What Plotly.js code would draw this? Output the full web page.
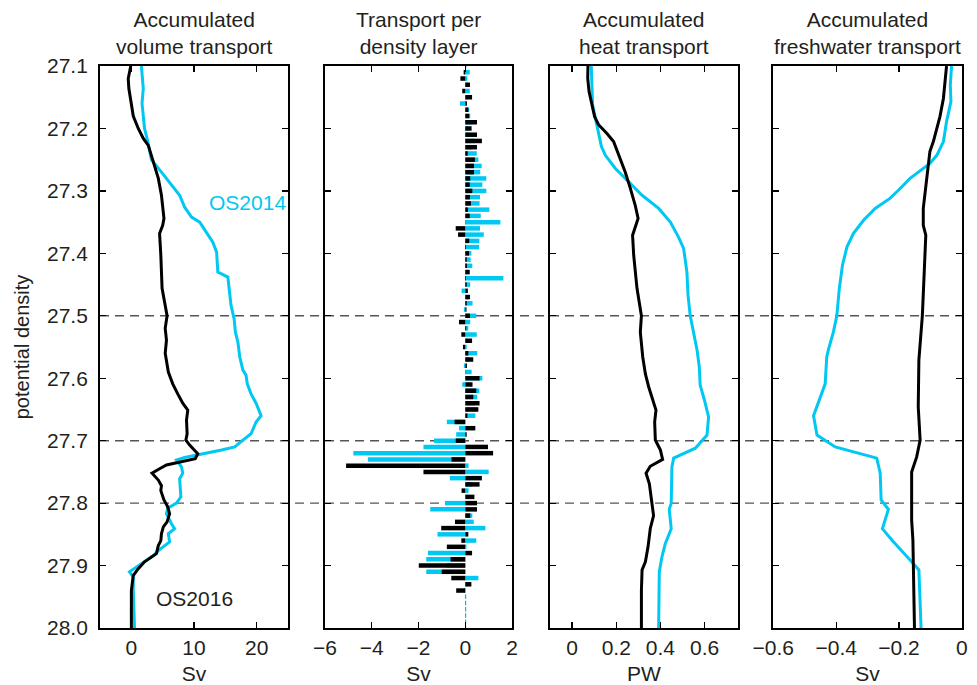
<!DOCTYPE html>
<html>
<head>
<meta charset="utf-8">
<script src="https://cdn.plot.ly/plotly-3.0.1.min.js"></script>
<style>html,body{margin:0;padding:0;background:#fff;}#chart{width:977px;height:685px;}</style>
</head>
<body>
<div id="chart"></div>
<script>
// ---------- Panel 1: accumulated volume transport (Sv) ----------
const vol2016Dens = [27.10,27.12,27.136,27.16,27.18,27.20,27.216,27.227,27.253,27.28,27.307,27.344,27.355,27.368,27.403,27.456,27.50,27.52,27.539,27.56,27.59,27.609,27.625,27.64,27.651,27.667,27.689,27.699,27.707,27.721,27.729,27.734,27.739,27.745,27.752,27.763,27.772,27.78,27.795,27.806,27.817,27.83,27.838,27.849,27.86,27.868,27.881,27.894,27.905,27.916,27.94,28.0];
const vol2016 = [-0.1,-0.5,-0.4,0,0.3,1.1,1.9,2.7,3.5,4.3,4.8,5.2,5.0,4.5,4.7,4.9,5.7,5.4,5.6,5.4,5.9,6.6,7.4,8.2,9.0,8.8,8.9,8.7,9.3,10.6,10.2,8.0,5.6,4.5,3.3,4.3,4.8,4.7,5.2,5.8,6.1,5.7,5.1,4.8,4.7,4.3,4.0,2.1,1.1,0.3,0,0];
const vol2014Dens = [27.10,27.136,27.16,27.20,27.22,27.25,27.27,27.29,27.307,27.326,27.342,27.35,27.366,27.382,27.398,27.43,27.438,27.457,27.483,27.505,27.526,27.542,27.566,27.587,27.595,27.609,27.625,27.64,27.66,27.67,27.689,27.699,27.71,27.715,27.722,27.727,27.731,27.742,27.752,27.761,27.79,27.80,27.808,27.817,27.833,27.841,27.849,27.862,27.876,27.884,27.897,27.91,27.918,27.94,28.0];
const vol2014 = [1.6,1.9,1.7,2.1,2.6,3.2,4.8,6.4,7.7,8.5,9.6,10.9,12.0,13.0,13.6,13.8,15.4,15.6,15.9,16.4,16.6,17.0,17.3,17.8,18.3,18.5,19.1,19.9,20.7,19.9,19.1,17.8,16.5,14.4,10.6,8.5,7.2,8.0,8.2,7.7,7.9,7.2,5.8,5.6,6.4,6.9,5.9,6.1,4.3,3.5,1.6,-0.3,0.3,0.3,0.5];

// ---------- Panel 2: transport per density layer (Sv) ----------
const layerDens = [27.10,27.11,27.12,27.13,27.14,27.15,27.16,27.17,27.18,27.19,27.20,27.21,27.22,27.23,27.24,27.25,27.26,27.27,27.28,27.29,27.30,27.31,27.32,27.33,27.34,27.35,27.36,27.37,27.38,27.39,27.40,27.41,27.42,27.43,27.44,27.45,27.46,27.47,27.48,27.49,27.50,27.51,27.52,27.53,27.54,27.55,27.56,27.57,27.58,27.59,27.60,27.61,27.62,27.63,27.64,27.65,27.66,27.67,27.68,27.69,27.70,27.71,27.72,27.73,27.74,27.75,27.76,27.77,27.78,27.79,27.80,27.81,27.82,27.83,27.84,27.85,27.86,27.87,27.88,27.89,27.90,27.91,27.92,27.93,27.94,27.95,27.96,27.97,27.98,27.99,28.00];
const layer2016 = [0.02,-0.07,-0.21,0.2,-0.13,0.29,0.07,0.13,0.17,0.5,0.27,0.5,0.71,0.5,0.1,0.41,0.37,0.37,0.21,0.19,0.3,0.2,0.24,0.11,0.19,0.01,-0.41,-0.31,0.17,0.03,0.16,0.06,0.07,0.19,0.03,0.06,0.11,0.2,0.06,0.05,0.2,-0.27,0.04,-0.17,0.29,-0.1,0.13,0.34,0.07,0.01,0.61,0.31,0.47,0.34,0.61,0.56,0.09,-0.46,0.43,0.06,-0.41,0.97,1.19,-0.59,-5.1,-1.79,0.71,0.61,-0.16,0.39,0.5,0.5,0.21,-0.44,-1.03,0.13,-0.17,-0.79,0.29,-0.63,-1.99,-1.01,-0.6,0.26,-0.39,0.01,0.01,0.01,0.01,0.01,0.01];
const layer2014 = [0.05,0.19,0.09,0.1,0.19,0.05,-0.23,0.17,0.21,0.3,0.1,0.2,0.4,0.3,0.49,0.56,0.7,0.64,0.9,0.73,0.9,0.63,0.61,1.03,0.66,1.5,0.63,0.79,0.6,0.59,0.26,0.23,0.3,0.1,1.63,0.21,-0.16,0.1,0.31,-0.06,0.47,0.21,0.13,0.49,0.1,0.06,0.51,0.2,-0.06,0.27,0.73,-0.13,0.6,0.51,0.4,0.5,0.43,-0.79,-0.27,-0.39,-1.34,-1.79,-4.79,-4.17,0.14,1.0,-0.66,0.3,0.14,0.02,-0.87,-1.5,0.3,0.36,0.86,-1.19,0.47,0.05,-1.6,-1.67,-0.8,-1.67,0.56,0.02,-0.05,0.04,0.04,0.04,0.04,0.04,0.04];

// ---------- Panel 3: accumulated heat transport (PW) ----------
const heat2016Dens = [27.10,27.12,27.141,27.162,27.181,27.194,27.208,27.221,27.243,27.27,27.296,27.323,27.344,27.358,27.371,27.403,27.456,27.50,27.526,27.566,27.593,27.614,27.636,27.651,27.67,27.699,27.715,27.73,27.741,27.752,27.769,27.795,27.82,27.841,27.87,27.894,27.907,27.94,28.0];
const heat2016 = [0.072,0.071,0.077,0.09,0.102,0.12,0.158,0.188,0.211,0.241,0.264,0.286,0.299,0.286,0.274,0.279,0.294,0.314,0.309,0.32,0.332,0.347,0.365,0.38,0.374,0.377,0.40,0.41,0.354,0.335,0.35,0.359,0.369,0.354,0.344,0.332,0.317,0.314,0.314];
const heat2014Dens = [27.10,27.136,27.162,27.189,27.21,27.229,27.243,27.264,27.28,27.307,27.328,27.35,27.374,27.392,27.43,27.467,27.50,27.526,27.555,27.582,27.611,27.636,27.662,27.691,27.704,27.712,27.728,27.742,27.80,27.81,27.841,27.865,27.886,27.91,28.0];
const heat2014 = [0.087,0.09,0.093,0.109,0.12,0.133,0.151,0.196,0.241,0.317,0.392,0.445,0.482,0.505,0.52,0.525,0.535,0.55,0.566,0.576,0.58,0.60,0.618,0.611,0.58,0.558,0.46,0.452,0.449,0.44,0.449,0.422,0.407,0.395,0.392];

// ---------- Panel 4: accumulated freshwater transport (Sv) ----------
const fw2016Dens = [27.10,27.125,27.152,27.181,27.202,27.221,27.237,27.259,27.296,27.328,27.355,27.371,27.43,27.50,27.571,27.646,27.699,27.726,27.75,27.80,27.827,27.859,27.912,28.0];
const fw2016 = [-0.049,-0.054,-0.059,-0.07,-0.08,-0.091,-0.102,-0.107,-0.114,-0.123,-0.123,-0.115,-0.12,-0.126,-0.137,-0.139,-0.133,-0.144,-0.16,-0.16,-0.16,-0.156,-0.155,-0.151];
const fw2014Dens = [27.10,27.13,27.157,27.189,27.221,27.243,27.256,27.27,27.28,27.299,27.312,27.328,27.347,27.368,27.39,27.419,27.456,27.50,27.526,27.553,27.566,27.609,27.66,27.691,27.699,27.71,27.728,27.752,27.795,27.81,27.841,27.859,27.891,27.907,28.0];
const fw2014 = [-0.033,-0.037,-0.035,-0.049,-0.059,-0.08,-0.102,-0.139,-0.165,-0.202,-0.229,-0.276,-0.313,-0.345,-0.366,-0.38,-0.39,-0.398,-0.409,-0.424,-0.43,-0.435,-0.472,-0.461,-0.435,-0.403,-0.271,-0.26,-0.257,-0.234,-0.253,-0.223,-0.165,-0.137,-0.13];

const densTicks = [27.1,27.2,27.3,27.4,27.5,27.6,27.7,27.8,27.9,28.0];
const refLines = [27.5, 27.7, 27.8];
const panelTitles = ['Accumulated<br>volume transport','Transport per<br>density layer','Accumulated<br>heat transport','Accumulated<br>freshwater transport'];
const xTitles = ['Sv','Sv','PW','Sv'];
const xRanges = [[-5,25],[-6,2],[-0.1,0.75],[-0.6,0]];
const xTickVals = [[0,10,20],[-6,-4,-2,0,2],[0,0.2,0.4,0.6],[-0.6,-0.4,-0.2,0]];

const CYAN = '#00c8f2';
const BLACK = '#000000';
const TXT = '#231f20';
const FONT = 'Liberation Sans, Arial, Helvetica, sans-serif';
const FS = 21;

const doms = [[0.1024,0.2948],[0.3327,0.5241],[0.5629,0.7551],[0.7915,0.9846]];
const ydom = [0.0832,0.9036];

const traces = [
  {x: vol2014, y: vol2014Dens, xaxis:'x', yaxis:'y', mode:'lines', line:{color:CYAN,width:3}},
  {x: vol2016, y: vol2016Dens, xaxis:'x', yaxis:'y', mode:'lines', line:{color:BLACK,width:3}},
  {x: layer2014, y: layerDens, xaxis:'x2', yaxis:'y2', type:'bar', orientation:'h', width:0.0072, marker:{color:CYAN,line:{width:0}}},
  {x: layer2016, y: layerDens, xaxis:'x2', yaxis:'y2', type:'bar', orientation:'h', width:0.0072, marker:{color:BLACK,line:{width:0}}},
  {x: heat2014, y: heat2014Dens, xaxis:'x3', yaxis:'y3', mode:'lines', line:{color:CYAN,width:3}},
  {x: heat2016, y: heat2016Dens, xaxis:'x3', yaxis:'y3', mode:'lines', line:{color:BLACK,width:3}},
  {x: fw2014, y: fw2014Dens, xaxis:'x4', yaxis:'y4', mode:'lines', line:{color:CYAN,width:3}},
  {x: fw2016, y: fw2016Dens, xaxis:'x4', yaxis:'y4', mode:'lines', line:{color:BLACK,width:3}}
];

const layout = {
  width: 977, height: 685,
  margin: {l:0, r:0, t:0, b:0},
  paper_bgcolor: '#fff', plot_bgcolor: '#fff',
  showlegend: false,
  barmode: 'overlay',
  font: {family: FONT, size: FS, color: TXT},
  annotations: [],
  shapes: []
};

for (let i = 0; i < 4; i++) {
  const s = i === 0 ? '' : String(i + 1);
  layout['xaxis' + s] = {
    domain: doms[i], anchor: 'y' + s, range: xRanges[i],
    tickmode: 'array', tickvals: xTickVals[i],
    ticks: 'inside', ticklen: 6, tickwidth: 1.2, tickcolor: '#000',
    showline: true, linecolor: '#000', linewidth: 2, mirror: 'ticks',
    showgrid: false, zeroline: false,
    tickfont: {family: FONT, size: FS, color: TXT},
    title: {text: xTitles[i], font: {family: FONT, size: FS, color: TXT}, standoff: 11}
  };
  layout['yaxis' + s] = {
    domain: ydom, anchor: 'x' + s, range: [28.0, 27.1],
    tickmode: 'array', tickvals: densTicks, tickformat: '.1f',
    ticks: 'inside', ticklen: 6, tickwidth: 1.2, tickcolor: '#000',
    showline: true, linecolor: '#000', linewidth: 2, mirror: 'ticks',
    showgrid: false, zeroline: false,
    showticklabels: i === 0, ticklabelstandoff: 6,
    tickfont: {family: FONT, size: FS, color: TXT}
  };
  if (i === 0) {
    layout.yaxis.title = {text: 'potential density', font: {family: FONT, size: 20, color: TXT}, standoff: 12};
  }
  layout.annotations.push({
    text: panelTitles[i], xref: 'paper', yref: 'paper',
    x: (doms[i][0] + doms[i][1]) / 2, y: 1 - 60/685,
    xanchor: 'center', yanchor: 'bottom', showarrow: false,
    font: {family: FONT, size: FS, color: TXT}
  });
}

layout.annotations.push({text:'OS2014', x:18.5, y:27.318, xref:'x', yref:'y', showarrow:false, font:{family:FONT,size:FS,color:CYAN}});
layout.annotations.push({text:'OS2016', x:10.0, y:27.953, xref:'x', yref:'y', showarrow:false, font:{family:FONT,size:FS,color:TXT}});

refLines.forEach(v => {
  layout.shapes.push({type:'line', xref:'paper', yref:'y', x0:doms[0][0], x1:doms[3][1], y0:v, y1:v,
    line:{color:'#555', width:1.4, dash:'9px,6px'}, layer:'below'});
});

Plotly.newPlot('chart', traces, layout, {staticPlot: true, displayModeBar: false});
</script>
</body>
</html>
